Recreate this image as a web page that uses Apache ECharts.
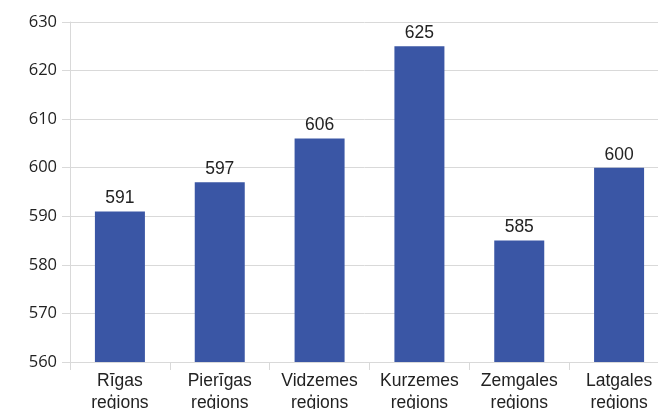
<!DOCTYPE html>
<html>
<head>
<meta charset="utf-8">
<script src="https://cdn.jsdelivr.net/npm/echarts@6/dist/echarts.min.js"></script>
<style>
  html, body { margin: 0; padding: 0; background: #fff; overflow: hidden; width: 658px; height: 409px; }
  #myChart { position: absolute; left: 0; top: 0; width: 658px; height: 409px; }
</style>
</head>
<body>
<div id="myChart"></div>
<script>
// reģioni un vērtības
var regions = ["Rīgas\nreģions", "Pierīgas\nreģions", "Vidzemes\nreģions", "Kurzemes\nreģions", "Zemgales\nreģions", "Latgales\nreģions"];
var values = [591, 597, 606, 625, 585, 600];
var yTicks = { min: 560, max: 630, interval: 10 };

var myChart = echarts.init(document.getElementById("myChart"));
myChart.setOption({
  animation: false,
  color: ["#3a56a5"],
  grid: {
    left: 70,
    right: -11,
    top: 22,
    bottom: 47,
    containLabel: false,
    outerBoundsMode: "none",
  },
  xAxis: {
    type: "category",
    data: regions,
    axisLine: { lineStyle: { color: "#d9d9d9" } },
    axisTick: { show: true, length: 8, lineStyle: { color: "#d9d9d9" } },
    axisLabel: {
      interval: 0,
      color: "#222",
      fontFamily: "Liberation Sans",
      fontSize: 17.5,
      lineHeight: 22,
      margin: 8,
    },
  },
  yAxis: {
    type: "value",
    min: yTicks.min,
    max: yTicks.max,
    interval: yTicks.interval,
    axisLine: { show: true, lineStyle: { color: "#d9d9d9" } },
    axisTick: { show: true, length: 8, lineStyle: { color: "#d9d9d9" } },
    splitLine: { lineStyle: { color: "#d9d9d9" } },
    axisLabel: {
      color: "#222",
      fontFamily: "Open Sans",
      fontSize: 16.5,
      margin: 13,
    },
  },
  series: [
    {
      type: "bar",
      barWidth: 50,
      data: values,
      label: {
        show: true,
        position: "top",
        distance: 4,
        color: "#222",
        fontFamily: "Liberation Sans",
        fontSize: 17.5,
      },
    },
  ],
});
</script>
</body>
</html>
